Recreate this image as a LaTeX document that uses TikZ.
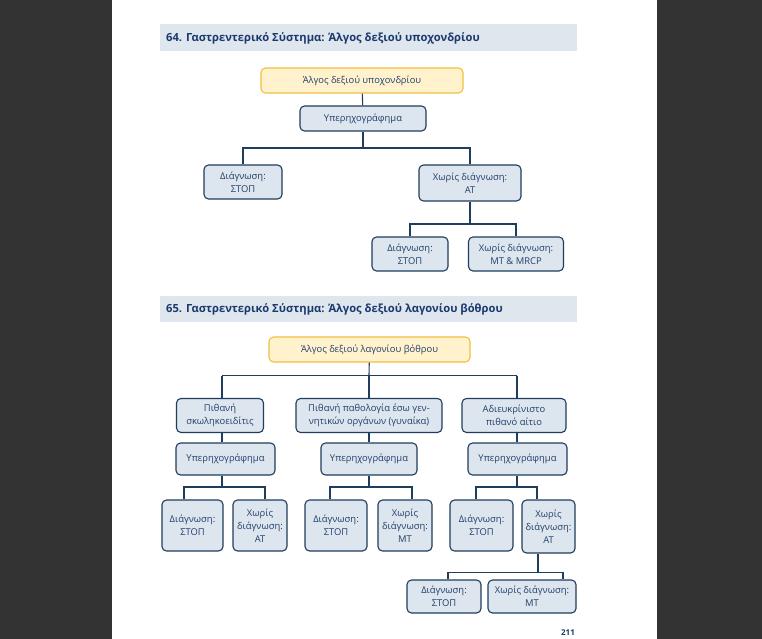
\documentclass[tikz,border=0pt]{standalone}
\usepackage{fontspec}
\setmainfont{Open Sans}
\definecolor{navy}{HTML}{1F3D5C}
\definecolor{boxfill}{HTML}{DDE5EE}
\definecolor{txt}{HTML}{22406A}
\definecolor{yfill}{HTML}{FFF2CC}
\definecolor{ydraw}{HTML}{F0C040}
\definecolor{hdr}{HTML}{DFE6EE}
\definecolor{hdrtxt}{HTML}{1A3A6E}
\definecolor{dark}{HTML}{333333}
\tikzset{
  bx/.style={draw=navy, fill=boxfill, rounded corners=4.5pt, line width=1.1pt,
    align=center, text=txt, font=\fontsize{9.4}{12.8}\selectfont, inner sep=1pt},
  ybx/.style={bx, draw=ydraw, fill=yfill},
  ln/.style={draw=navy, line width=1.1pt},
  hdrtext/.style={anchor=west, text=hdrtxt, font=\fontsize{11.2}{13}\selectfont\bfseries, inner sep=0pt}
}
\begin{document}
\begin{tikzpicture}[x=1pt,y=-1pt]
\useasboundingbox (0,0) rectangle (762,639);
\fill[dark] (0,0) rectangle (112,639);
\fill[dark] (657,0) rectangle (762,639);
\fill[white] (112,0) rectangle (657,639);
% headers
\fill[hdr] (160,24) rectangle (577,51);
\node[hdrtext] (h1) at (166,38.5) {64. Γαστρεντερικό Σύστημα: Άλγος δεξιού υποχονδρίου};
\fill[hdr] (160,296) rectangle (577,322);
\node[hdrtext] (h2) at (166,309.5) {65. Γαστρεντερικό Σύστημα: Άλγος δεξιού λαγονίου βόθρου};
% tree 1
\node[ybx, minimum width=202, minimum height=25] (b1) at (362,80.5) {Άλγος δεξιού υποχονδρίου};
\node[bx, minimum width=126, minimum height=25] (b2) at (363,118.5) {Υπερηχογράφημα};
\node[bx, minimum width=78, minimum height=34] (b3) at (243,182) {Διάγνωση:\\ΣΤΟΠ};
\node[bx, minimum width=102, minimum height=36] (b4) at (470,183) {Χωρίς διάγνωση:\\ΑΤ};
\node[bx, minimum width=76, minimum height=34] (b5) at (410,254) {Διάγνωση:\\ΣΤΟΠ};
\node[bx, minimum width=95, minimum height=34] (b6) at (516,254) {Χωρίς διάγνωση:\\MT \& MRCP};
\draw[ln] (b1) -- (b2);
\coordinate (j1) at (363,148);
\draw[ln] (b2) -- (j1);
\draw[ln] (b3.north) |- (j1) -| (b4.north);
\coordinate (j2) at (470,224);
\draw[ln] (b4) -- (j2);
\draw[ln] (b5.north) |- (j2) -| (b6.north);
% tree 2
\node[ybx, minimum width=201, minimum height=25] (b7) at (369.5,349.5) {Άλγος δεξιού λαγονίου βόθρου};
\node[bx, minimum width=87, minimum height=34] (b8) at (220,415.5) {Πιθανή\\σκωληκοειδίτις};
\node[bx, minimum width=146, minimum height=34] (b9) at (369,415.5) {Πιθανή παθολογία έσω γεν-\\νητικών οργάνων (γυναίκα)};
\node[bx, minimum width=104, minimum height=34] (b10) at (514,415.5) {Αδιευκρίνιστο\\πιθανό αίτιο};
\node[bx, minimum width=99, minimum height=32] (b11) at (225.5,459) {Υπερηχογράφημα};
\node[bx, minimum width=96, minimum height=32] (b12) at (369,459) {Υπερηχογράφημα};
\node[bx, minimum width=99, minimum height=32] (b13) at (517.5,459) {Υπερηχογράφημα};
\node[bx, minimum width=61, minimum height=51] (b14) at (192.5,525.5) {Διάγνωση:\\ΣΤΟΠ};
\node[bx, minimum width=54, minimum height=51] (b15) at (260,525.5) {Χωρίς\\διάγνωση:\\ΑΤ};
\node[bx, minimum width=62, minimum height=51] (b16) at (336,525.5) {Διάγνωση:\\ΣΤΟΠ};
\node[bx, minimum width=54, minimum height=51] (b17) at (405,525.5) {Χωρίς\\διάγνωση:\\ΜΤ};
\node[bx, minimum width=63, minimum height=51] (b18) at (481.5,525.5) {Διάγνωση:\\ΣΤΟΠ};
\node[bx, minimum width=53, minimum height=53] (b19) at (548.5,526.5) {Χωρίς\\διάγνωση:\\ΑΤ};
\node[bx, minimum width=74, minimum height=33] (b20) at (444,596.5) {Διάγνωση:\\ΣΤΟΠ};
\node[bx, minimum width=88, minimum height=33] (b21) at (532,596.5) {Χωρίς διάγνωση:\\ΜΤ};
% connectors tree 2
\coordinate (j3) at (369,375.5);
\draw[ln] (b7) -- (j3);
\coordinate (k8) at (222,375.5);
\coordinate (k10) at (517,375.5);
\draw[ln] (k8) -- (k10);
\draw[ln] (k8) -- (k8 |- b8.north);
\draw[ln] (j3) -- (b9.north);
\draw[ln] (k10) -- (k10 |- b10.north);
\draw[ln] (k8 |- b8.south) -- (k8 |- b11.north);
\draw[ln] (b9) -- (b12);
\draw[ln] (k10 |- b10.south) -- (k10 |- b13.north);
% sub buses
\coordinate (m1) at (222,487);
\coordinate (m1a) at (184,487);
\coordinate (m1b) at (265,487);
\draw[ln] (m1 |- b11.south) -- (m1);
\draw[ln] (m1a |- b14.north) |- (m1b) -- (m1b |- b15.north);
\coordinate (m2) at (369,487);
\coordinate (m2a) at (330,487);
\coordinate (m2b) at (412,487);
\draw[ln] (b12) -- (m2);
\draw[ln] (m2a |- b16.north) |- (m2b) -- (m2b |- b17.north);
\coordinate (m3) at (517,487);
\coordinate (m3a) at (476,487);
\coordinate (m3b) at (537,487);
\draw[ln] (m3 |- b13.south) -- (m3);
\draw[ln] (m3a |- b18.north) |- (m3b) -- (m3b |- b19.north);
\coordinate (m4) at (538,572.5);
\coordinate (m4a) at (448,572.5);
\coordinate (m4b) at (563,572.5);
\draw[ln] (m4 |- b19.south) -- (m4);
\draw[ln] (m4a |- b20.north) |- (m4b) -- (m4b |- b21.north);
% page number
\node[text=hdrtxt, font=\fontsize{8}{9}\selectfont\bfseries, inner sep=0pt] (pn) at (568,633) {211};
\end{tikzpicture}
\end{document}
